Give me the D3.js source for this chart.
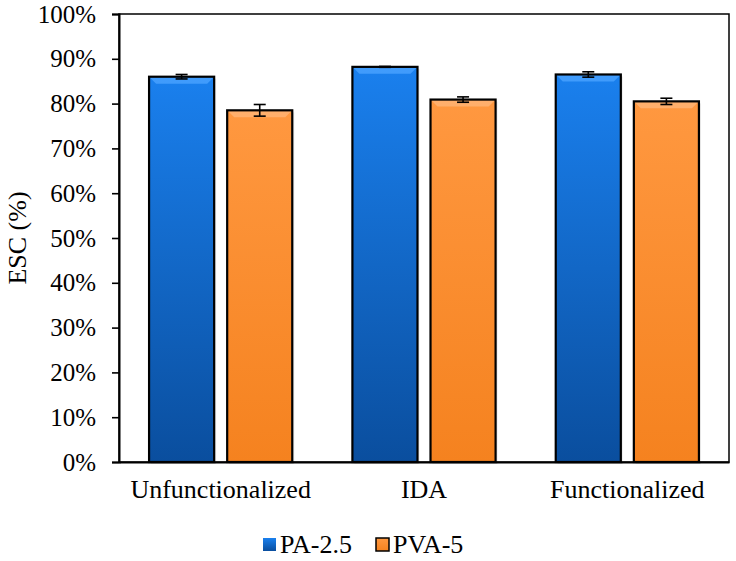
<!DOCTYPE html>
<html><head><meta charset="utf-8">
<script src="https://cdn.jsdelivr.net/npm/d3@7"></script>
<style>body{margin:0;background:#fff}svg{display:block}
svg text{font-family:'Liberation Serif','Times New Roman','DejaVu Serif',serif;fill:#000}</style>
</head><body>
<svg id="c" width="736" height="561"></svg>
<script>
const categories = ["Unfunctionalized", "IDA", "Functionalized"];
const seriesNames = ["PA-2.5", "PVA-5"];
const paValues = [86.0, 88.2, 86.5];
const paErrors = [0.5, 0.1, 0.6];
const pvaValues = [78.5, 80.9, 80.5];
const pvaErrors = [1.3, 0.6, 0.7];
const yTicks = [0, 10, 20, 30, 40, 50, 60, 70, 80, 90, 100];

const FONT = "'Liberation Serif','Times New Roman','DejaVu Serif',serif";
const svg = d3.select("#c");
const W = 736, H = 561;
const m = {l: 119, r: 7, t: 14, b: 99};
const x0 = d3.scaleBand().domain(categories).range([m.l, W - m.r]).paddingInner(0).paddingOuter(0);
const x1 = d3.scaleBand().domain(seriesNames).range([0, x0.bandwidth()]).paddingInner(0.1667).paddingOuter(0.385);
const y = d3.scaleLinear().domain([0, 100]).range([H - m.b, m.t]);

const defs = svg.append("defs");
function grad(id, c1, c2) {
  const g = defs.append("linearGradient").attr("id", id).attr("x1", 0).attr("y1", 0).attr("x2", 0).attr("y2", 1);
  g.append("stop").attr("offset", "0%").attr("stop-color", c1);
  g.append("stop").attr("offset", "100%").attr("stop-color", c2);
}
grad("gBlue", "#1a80ee", "#0a4e9e");
grad("gOrange", "#ff9840", "#f5821f");
const fills = {"PA-2.5": "url(#gBlue)", "PVA-5": "url(#gOrange)"};
const tops = {"PA-2.5": "#4aa3ff", "PVA-5": "#ffb577"};

svg.append("rect").attr("x", m.l).attr("y", m.t).attr("width", W - m.r - m.l).attr("height", H - m.b - m.t)
  .attr("fill", "none").attr("stroke", "#000").attr("stroke-width", 1.5);

const data = [];
categories.forEach((c, i) => {
  data.push({cat: c, s: "PA-2.5", v: paValues[i], e: paErrors[i]});
  data.push({cat: c, s: "PVA-5", v: pvaValues[i], e: pvaErrors[i]});
});

const g = svg.append("g");
data.forEach(d => {
  const bx = x0(d.cat) + x1(d.s), bw = x1.bandwidth();
  const by = y(d.v), bh = y(0) - y(d.v);
  g.append("rect").attr("x", bx + 2).attr("y", by + 2).attr("width", bw).attr("height", bh)
    .attr("fill", "#000").attr("opacity", 0.08);
  g.append("rect").attr("x", bx).attr("y", by).attr("width", bw).attr("height", bh)
    .attr("fill", fills[d.s]);
  g.append("path").attr("d", `M${bx},${by}L${bx + bw},${by}L${bx + bw - 7},${by + 7}L${bx + 7},${by + 7}Z`)
    .attr("fill", tops[d.s]).attr("opacity", 0.8);
  g.append("rect").attr("x", bx).attr("y", by).attr("width", bw).attr("height", bh)
    .attr("fill", "none").attr("stroke", "#000").attr("stroke-width", 2.2);
  const cx = bx + bw / 2;
  const eg = g.append("g").attr("stroke", "#000").attr("stroke-width", 1.6);
  eg.append("line").attr("x1", cx).attr("x2", cx).attr("y1", y(d.v + d.e)).attr("y2", y(d.v - d.e));
  eg.append("line").attr("x1", cx - 6).attr("x2", cx + 6).attr("y1", y(d.v + d.e)).attr("y2", y(d.v + d.e));
  eg.append("line").attr("x1", cx - 6).attr("x2", cx + 6).attr("y1", y(d.v - d.e)).attr("y2", y(d.v - d.e));
});

const yAxis = d3.axisLeft(y).tickValues(yTicks).tickFormat(d => d + "%").tickSize(7).tickPadding(16);
const ya = svg.append("g").attr("transform", `translate(${m.l},0)`).call(yAxis)
  .attr("font-family", FONT).attr("font-size", 25);
ya.select(".domain").attr("stroke-width", 2);
ya.selectAll(".tick line").attr("stroke-width", 1.6);
ya.selectAll("text").attr("fill", "#000");

const xa = svg.append("g").attr("transform", `translate(0,${y(0)})`).call(d3.axisBottom(x0).tickSize(0).tickPadding(18))
  .attr("font-family", FONT).attr("font-size", 26);
xa.select(".domain").attr("stroke-width", 2);
xa.selectAll("text").attr("fill", "#000");

svg.append("text").attr("transform", `translate(26,${(m.t + H - m.b) / 2}) rotate(-90)`)
  .attr("text-anchor", "middle").attr("font-family", FONT)
  .attr("font-size", 26).text("ESC (%)");

const leg = svg.append("g").attr("transform", "translate(263,538)");
const legX = [0, 113];
seriesNames.forEach((s, i) => {
  const lg = leg.append("g").attr("transform", `translate(${legX[i]},0)`);
  lg.append("rect").attr("x", 0).attr("y", 0).attr("width", 13).attr("height", 13)
    .attr("fill", fills[s]).attr("stroke", i === 1 ? "#000" : "none").attr("stroke-width", 1.5);
  lg.append("text").attr("x", 17).attr("y", 15).attr("font-family", FONT)
    .attr("font-size", 26).text(s);
});
</script>
</body></html>
